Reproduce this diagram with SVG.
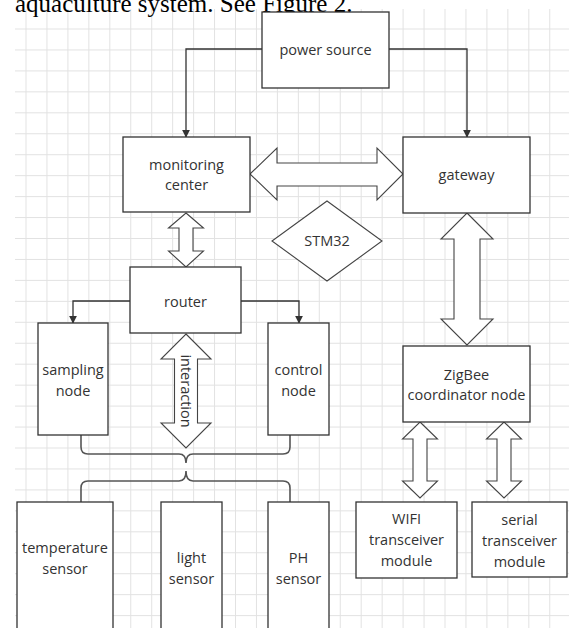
<svg xmlns="http://www.w3.org/2000/svg" width="569" height="628" viewBox="0 0 569 628">
<defs>
<pattern id="grid" patternUnits="userSpaceOnUse" x="25.5" y="28.5" width="20.95" height="20.95">
<path d="M0.5 0 V20.95 M0 0.5 H20.95" fill="none" stroke="#e2e2e2" stroke-width="1"/>
</pattern>
<marker id="ah" viewBox="0 0 10 10" refX="9" refY="5" markerWidth="8" markerHeight="8" markerUnits="userSpaceOnUse" orient="auto">
<path d="M0 0 L10 5 L0 10 Z" fill="#333"/>
</marker>
<style>
.box{fill:#fff;stroke:#333;stroke-width:1.3}
.dbl{fill:#fff;stroke:#444;stroke-width:1.1;stroke-linejoin:miter}
.ln{fill:none;stroke:#333;stroke-width:1.3}
.brace{fill:none;stroke:#555;stroke-width:1.6}
.t{font-family:"Open Sans","Noto Sans",sans-serif;font-size:14.5px;fill:#333;text-anchor:middle}
.hdr{font-family:"Liberation Serif",serif;font-size:25px;fill:#000}
</style>
</defs>
<rect x="0" y="0" width="569" height="628" fill="#fff"/>
<rect x="15" y="9" width="554" height="619" fill="url(#grid)"/>
<text class="hdr" x="15" y="12">aquaculture system. See Figure 2.</text>

<g id="connectors">
<path class="ln" d="M262 49 H186 V137" marker-end="url(#ah)"/>
<path class="ln" d="M389 49 H467 V137" marker-end="url(#ah)"/>
<path class="ln" d="M130 301 H73 V323" marker-end="url(#ah)"/>
<path class="ln" d="M241 301 H299 V323" marker-end="url(#ah)"/>
<polygon class="dbl" points="250,174 277,148 277,163 377,163 377,148 403,174 377,200 377,186 277,186 277,200"/>
<polygon class="dbl" points="186,213 203.5,228 193,228 193,251 203.5,251 186,267 168.5,251 179,251 179,228 168.5,228"/>
<polygon class="dbl" points="186,334 211,359 197.5,359 197.5,423 211,423 186,448 161,423 174.5,423 174.5,359 161,359"/>
<text class="t" transform="translate(186,391) rotate(90)" dy="0.35em">interaction</text>
<polygon class="dbl" points="467,213 493,239 480,239 480,319 493,319 467,345 441,319 454,319 454,239 441,239"/>
<polygon class="dbl" points="420,422 437.5,439 427,439 427,481 437.5,481 420,498 402.5,481 413,481 413,439 402.5,439"/>
<polygon class="dbl" points="504,422 521.5,439 511,439 511,481 521.5,481 504,498 486.5,481 497,481 497,439 486.5,439"/>
<path class="brace" d="M81 435 V447 Q81 454 88 454 H179 Q186 454 186 463 Q186 454 193 454 H283 Q290 454 290 447 V435"/>
<path class="brace" d="M81 502 V488 Q81 481 88 481 H179 Q186 481 186 471 Q186 481 193 481 H283 Q290 481 290 488 V502"/>
</g>

<g id="power-source">
<rect class="box" x="262" y="12" width="127" height="76"/>
<text class="t" x="325.5" y="55">power source</text>
</g>
<g id="monitoring-center">
<rect class="box" x="123" y="137" width="127" height="75"/>
<text class="t" x="186.5" y="170">monitoring</text>
<text class="t" x="186.5" y="190">center</text>
</g>
<g id="gateway">
<rect class="box" x="403" y="137" width="127" height="76"/>
<text class="t" x="466.5" y="180">gateway</text>
</g>
<g id="stm32">
<polygon class="dbl" points="327,201 382,241 327,281 272,241"/>
<text class="t" x="327" y="246">STM32</text>
</g>
<g id="router">
<rect class="box" x="130" y="267" width="111" height="66"/>
<text class="t" x="185.5" y="307">router</text>
</g>
<g id="sampling-node">
<rect class="box" x="38" y="323" width="70" height="112"/>
<text class="t" x="73" y="375">sampling</text>
<text class="t" x="73" y="396">node</text>
</g>
<g id="control-node">
<rect class="box" x="268" y="323" width="61" height="112"/>
<text class="t" x="298.5" y="375">control</text>
<text class="t" x="298.5" y="396">node</text>
</g>
<g id="zigbee-node">
<rect class="box" x="403" y="346" width="127" height="76"/>
<text class="t" x="466.5" y="380">ZigBee</text>
<text class="t" x="466.5" y="400">coordinator node</text>
</g>
<g id="temperature-sensor">
<rect class="box" x="17" y="502" width="96" height="140"/>
<text class="t" x="65" y="553">temperature</text>
<text class="t" x="65" y="574">sensor</text>
</g>
<g id="light-sensor">
<rect class="box" x="161" y="502" width="61" height="140"/>
<text class="t" x="191.5" y="563">light</text>
<text class="t" x="191.5" y="584">sensor</text>
</g>
<g id="ph-sensor">
<rect class="box" x="268" y="502" width="61" height="140"/>
<text class="t" x="298.5" y="563">PH</text>
<text class="t" x="298.5" y="584">sensor</text>
</g>
<g id="wifi-module">
<rect class="box" x="356" y="502" width="101" height="76"/>
<text class="t" x="406.5" y="524">WIFI</text>
<text class="t" x="406.5" y="545">transceiver</text>
<text class="t" x="406.5" y="566">module</text>
</g>
<g id="serial-module">
<rect class="box" x="472" y="502" width="95" height="75"/>
<text class="t" x="519.5" y="525">serial</text>
<text class="t" x="519.5" y="546">transceiver</text>
<text class="t" x="519.5" y="567">module</text>
</g>
</svg>
